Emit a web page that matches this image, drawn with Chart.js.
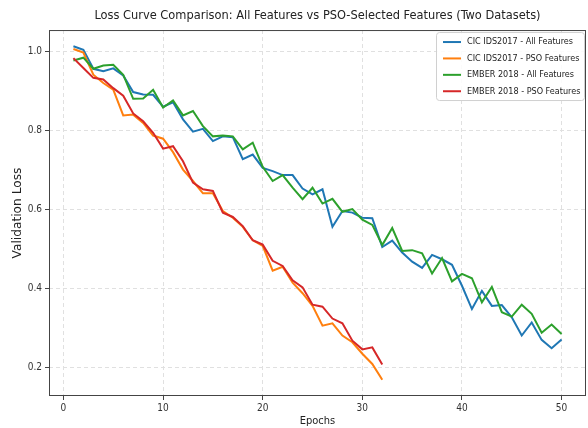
<!DOCTYPE html>
<html>
<head>
<meta charset="utf-8">
<script src="https://cdn.jsdelivr.net/npm/chart.js@4.4.1/dist/chart.umd.min.js"></script>
<style>
  html, body { margin: 0; padding: 0; background: #ffffff; }
  #wrap { width: 588px; height: 428px; }
</style>
</head>
<body>
<div id="wrap"><canvas id="lossChart" width="588" height="428"></canvas></div>
<script>
// values
const cicAll = [
    1.013, 1.004, 0.956, 0.950, 0.957, 0.939, 0.897, 0.891, 0.890, 0.860,
    0.871, 0.828, 0.797, 0.804, 0.773, 0.785, 0.783, 0.727, 0.739, 0.705,
    0.697, 0.687, 0.687, 0.653, 0.638, 0.651, 0.556, 0.596, 0.592, 0.579,
    0.578, 0.505, 0.521, 0.491, 0.468, 0.452, 0.485, 0.474, 0.460, 0.407,
    0.348, 0.394, 0.356, 0.358, 0.327, 0.281, 0.314, 0.270, 0.249, 0.271
];
const cicPso = [
    1.006, 0.997, 0.941, 0.920, 0.903, 0.838, 0.840, 0.819, 0.787, 0.779,
    0.745, 0.701, 0.672, 0.641, 0.641, 0.596, 0.579, 0.556, 0.522, 0.508,
    0.445, 0.455, 0.415, 0.388, 0.356, 0.306, 0.312, 0.281, 0.264, 0.235,
    0.209, 0.169
];
const emberAll = [
    0.977, 0.984, 0.956, 0.964, 0.966, 0.941, 0.880, 0.881, 0.903, 0.858,
    0.876, 0.838, 0.849, 0.811, 0.785, 0.787, 0.785, 0.752, 0.769, 0.708,
    0.672, 0.687, 0.655, 0.626, 0.655, 0.615, 0.627, 0.594, 0.601, 0.574,
    0.561, 0.510, 0.553, 0.495, 0.497, 0.489, 0.438, 0.477, 0.418, 0.437,
    0.426, 0.365, 0.404, 0.340, 0.329, 0.359, 0.336, 0.288, 0.309, 0.285
];
const emberPso = [
    0.983, 0.958, 0.933, 0.929, 0.907, 0.888, 0.843, 0.823, 0.794, 0.754,
    0.760, 0.722, 0.668, 0.651, 0.647, 0.592, 0.581, 0.558, 0.522, 0.511,
    0.470, 0.457, 0.421, 0.403, 0.359, 0.354, 0.324, 0.312, 0.268, 0.246,
    0.251, 0.208
];

const seriesNames = [
    "CIC IDS2017 - All Features",
    "CIC IDS2017 - PSO Features",
    "EMBER 2018 - All Features",
    "EMBER 2018 - PSO Features"
];
const seriesColors = ["#1f77b4", "#ff7f0e", "#2ca02c", "#d62728"];

const xTicks = [0, 10, 20, 30, 40, 50];
const yTicks = [0.2, 0.4, 0.6, 0.8, 1.0];

const FONT = "'DejaVu Sans Condensed', 'DejaVu Sans', sans-serif";

function toPoints(values) {
    return values.map((v, i) => ({ x: i + 1, y: v }));
}

const allSeries = [cicAll, cicPso, emberAll, emberPso];

const datasets = allSeries.map((vals, i) => ({
    label: seriesNames[i],
    data: toPoints(vals),
    borderColor: seriesColors[i],
    backgroundColor: seriesColors[i],
    borderWidth: 2,
    pointRadius: 0,
    tension: 0,
    fill: false,
    order: 4 - i
}));

// frame around the plot and the legend box in the upper right
const frameLegend = {
    id: "frameLegend",
    afterDatasetsDraw(chart) {
        const { ctx, chartArea: a } = chart;
        ctx.save();
        ctx.strokeStyle = "#444";
        ctx.lineWidth = 1;
        ctx.strokeRect(a.left + 0.5, a.top + 0.5, a.right - a.left - 1, a.bottom - a.top - 1);

        const bx = a.right - 150, by = a.top + 2, bw = 148, bh = 68;
        ctx.fillStyle = "rgba(255,255,255,0.85)";
        ctx.strokeStyle = "#d0d0d0";
        ctx.beginPath();
        ctx.roundRect(bx + 0.5, by + 0.5, bw, bh, 3);
        ctx.fill();
        ctx.stroke();

        ctx.font = "9px " + FONT;
        ctx.textBaseline = "middle";
        ctx.fillStyle = "#222";
        seriesNames.forEach((name, i) => {
            const y = by + 10 + i * 16.4;
            ctx.strokeStyle = seriesColors[i];
            ctx.lineWidth = 2;
            ctx.beginPath();
            ctx.moveTo(bx + 7, y);
            ctx.lineTo(bx + 25, y);
            ctx.stroke();
            ctx.fillText(name, bx + 31, y);
        });
        ctx.restore();
    }
};

new Chart(document.getElementById("lossChart"), {
    type: "line",
    data: { datasets: datasets },
    plugins: [frameLegend],
    options: {
        responsive: false,
        animation: false,
        layout: { padding: { left: 0, right: 2, top: 0, bottom: 0 } },
        plugins: {
            legend: { display: false },
            tooltip: { enabled: false },
            title: {
                display: true,
                fullSize: false,
                text: "Loss Curve Comparison: All Features vs PSO-Selected Features (Two Datasets)",
                color: "#222",
                font: { family: FONT, size: 12.7, weight: "normal" },
                padding: { top: 8, bottom: 6.8 }
            }
        },
        scales: {
            x: {
                type: "linear",
                min: -1.45,
                max: 52.45,
                afterBuildTicks: scale => {
                    scale.ticks = xTicks.map(v => ({ value: v }));
                },
                afterFit: scale => { scale.height = 32; },
                ticks: {
                    color: "#333",
                    font: { family: FONT, size: 10 },
                    padding: 2,
                    maxRotation: 0
                },
                grid: {
                    color: "#e0e0e0",
                    tickColor: "#444",
                    tickLength: 4,
                    tickBorderDash: []
                },
                border: { display: false, dash: [4, 3] },
                title: {
                    display: true,
                    text: "Epochs",
                    color: "#222",
                    font: { family: FONT, size: 11 },
                    padding: { top: 0, bottom: 0 }
                }
            },
            y: {
                min: 0.128,
                max: 1.054,
                afterBuildTicks: scale => {
                    scale.ticks = yTicks.map(v => ({ value: v }));
                },
                afterFit: scale => { scale.width = 49; },
                ticks: {
                    color: "#333",
                    font: { family: FONT, size: 10 },
                    padding: 3,
                    callback: v => v.toFixed(1)
                },
                grid: {
                    color: "#e0e0e0",
                    tickColor: "#444",
                    tickLength: 4,
                    tickBorderDash: []
                },
                border: { display: false, dash: [4, 3] },
                title: {
                    display: true,
                    text: "Validation Loss",
                    color: "#222",
                    font: { family: "'DejaVu Sans', sans-serif", size: 12.2 },
                    padding: { top: 11, bottom: 0 }
                }
            }
        }
    }
});
</script>
</body>
</html>
